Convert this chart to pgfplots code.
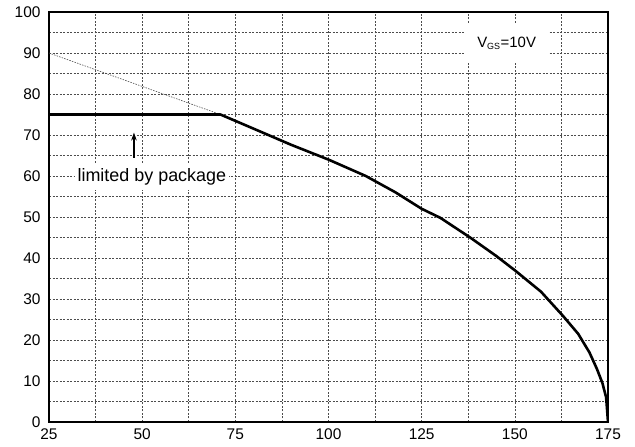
\documentclass[border=0pt]{standalone}
\usepackage{fontspec}
\setmainfont{Liberation Sans}
\usepackage{pgfplots}
\pgfplotsset{compat=1.18}
\usetikzlibrary{arrows.meta}

\newcommand{\tickfont}{\fontsize{15.5}{17}\selectfont}

\begin{document}
\begin{tikzpicture}
\begin{axis}[
    scale only axis,
    width=559bp,
    height=410bp,
    xmin=25, xmax=175,
    ymin=0, ymax=100,
    xtick={25,50,...,175},
    minor xtick={37.5,62.5,...,162.5},
    ytick={0,10,...,100},
    minor ytick={5,15,...,95},
    grid=both,
    grid style={black!70, line width=0.6bp, dash pattern=on 2bp off 1.5bp},
    major tick length=0pt,
    minor tick length=0pt,
    axis line style={line width=1.5bp},
    xticklabels={\tickfont 25,\tickfont 50,\tickfont 75,\tickfont 100,\tickfont 125,\tickfont 150,\tickfont 175},
    yticklabels={\tickfont 0,\tickfont 10,\tickfont 20,\tickfont 30,\tickfont 40,\tickfont 50,\tickfont 60,\tickfont 70,\tickfont 80,\tickfont 90,\tickfont 100},
    xticklabel style={yshift=-3.5bp},
    yticklabel style={xshift=-5bp},
    clip=true,
]
% extrapolated limit, dotted
\addplot[black!70, line width=0.6bp, dash pattern=on 1.5bp off 1.2bp] coordinates {
    (25,90) (71,75)
};

\node[fill=white, inner xsep=3bp, inner ysep=5bp, font=\fontsize{18}{20}\selectfont]
    at (axis cs:52.6,59.8) {limited by package};
\node[fill=white, minimum width=84bp, minimum height=40bp, font=\fontsize{15}{17}\selectfont]
    at (axis cs:147.8,92.4) {V\textsubscript{\fontsize{9}{10}\selectfont GS}=10V};

\draw[-{Stealth[length=8bp,width=5.5bp]}, line width=1.2bp]
    (axis cs:47.8,64.4) -- (axis cs:47.8,70.6);

% drain current curve
\addplot[black, line width=2.6bp, line join=round] coordinates {
    (25,75) (71,75) (80,71.5) (90,67.6) (100,64) (110,60)
    (118,56) (125,52) (130,49.8) (138,45) (145,40.5) (150,37)
    (157,31.8) (163,25.8) (167,21.5) (170,17) (172,13)
    (173.5,9.5) (174.5,6) (175,0)
};
\end{axis}
\useasboundingbox ([xshift=-49bp,yshift=-25bp]current axis.south west)
    rectangle ([xshift=27bp,yshift=12bp]current axis.north east);
\end{tikzpicture}
\end{document}
